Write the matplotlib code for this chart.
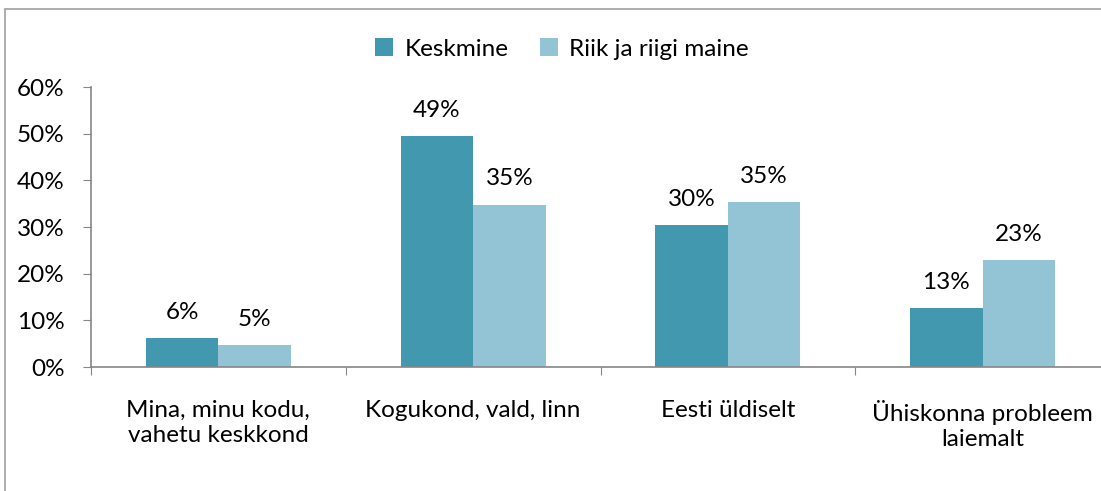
import matplotlib
matplotlib.use("Agg")
import matplotlib.pyplot as plt
import numpy as np
from matplotlib.patches import Rectangle

categories = ["Mina, minu kodu,\nvahetu keskkond", "Kogukond, vald, linn",
              "Eesti üldiselt", "Ühiskonna probleem\nlaiemalt"]
series_names = ["Keskmine", "Riik ja riigi maine"]
keskmine = [6.2, 49.4, 30.4, 12.6]
riik = [4.7, 34.8, 35.3, 22.9]
labels_k = ["6%", "49%", "30%", "13%"]
labels_r = ["5%", "35%", "35%", "23%"]
yticks = [0, 10, 20, 30, 40, 50, 60]
ytick_labels = ["0%", "10%", "20%", "30%", "40%", "50%", "60%"]

plt.rcParams['font.family'] = ['Lato', 'DejaVu Sans']
W, H = 1101, 491
fig = plt.figure(figsize=(W/100, H/100), dpi=100)

# outer frame
fig.patches.append(Rectangle((5/W, -0.05), 1.1, 1 - 9/H + 0.05, transform=fig.transFigure,
                             fill=False, edgecolor='#a0a0a0', linewidth=1.2))

left, right = 91, 1110
bottom, top = 367, 87
ax = fig.add_axes([left/W, 1 - bottom/H, (right-left)/W, (bottom-top)/H])
c1, c2 = '#4198af', '#93c4d5'
x = np.arange(len(categories))
bw = 0.285
ax.bar(x - bw/2, keskmine, bw, color=c1, label=series_names[0])
ax.bar(x + bw/2, riik, bw, color=c2, label=series_names[1])
fs = 17.5
tc = '#000000'
for i in range(len(x)):
    ax.text(x[i] - bw/2, keskmine[i] + 3.3, labels_k[i], ha='center', va='bottom', fontsize=fs, color=tc)
    ax.text(x[i] + bw/2, riik[i] + 3.3, labels_r[i], ha='center', va='bottom', fontsize=fs, color=tc)

ax.set_xlim(-0.5, len(categories) - 0.5)
ax.set_ylim(0, 60)
ax.set_yticks(yticks)
ax.set_yticklabels(ytick_labels, fontsize=fs, color=tc)
ax.set_xticks(np.arange(len(categories) + 1) - 0.5, minor=False)
ax.set_xticklabels([])
ax.tick_params(axis='x', length=6, color='#868686', direction='out')
ax.tick_params(axis='y', length=6, color='#868686', pad=13)
for i, c in enumerate(categories):
    ax.text(x[i], -7, c, ha='center', va='top', fontsize=fs, linespacing=1.25, color=tc)
for s in ['top', 'right']:
    ax.spines[s].set_visible(False)
for s in ['left', 'bottom']:
    ax.spines[s].set_color('#868686')
    ax.spines[s].set_linewidth(1.2)

leg = fig.legend(loc='center', bbox_to_anchor=(562/W, 1 - 49/H), ncol=2, frameon=False,
                 fontsize=fs, handlelength=0.75, handleheight=0.75, handletextpad=0.45, columnspacing=1.3)
for t in leg.get_texts():
    t.set_color(tc)
fig.savefig("out.png", dpi=100)
